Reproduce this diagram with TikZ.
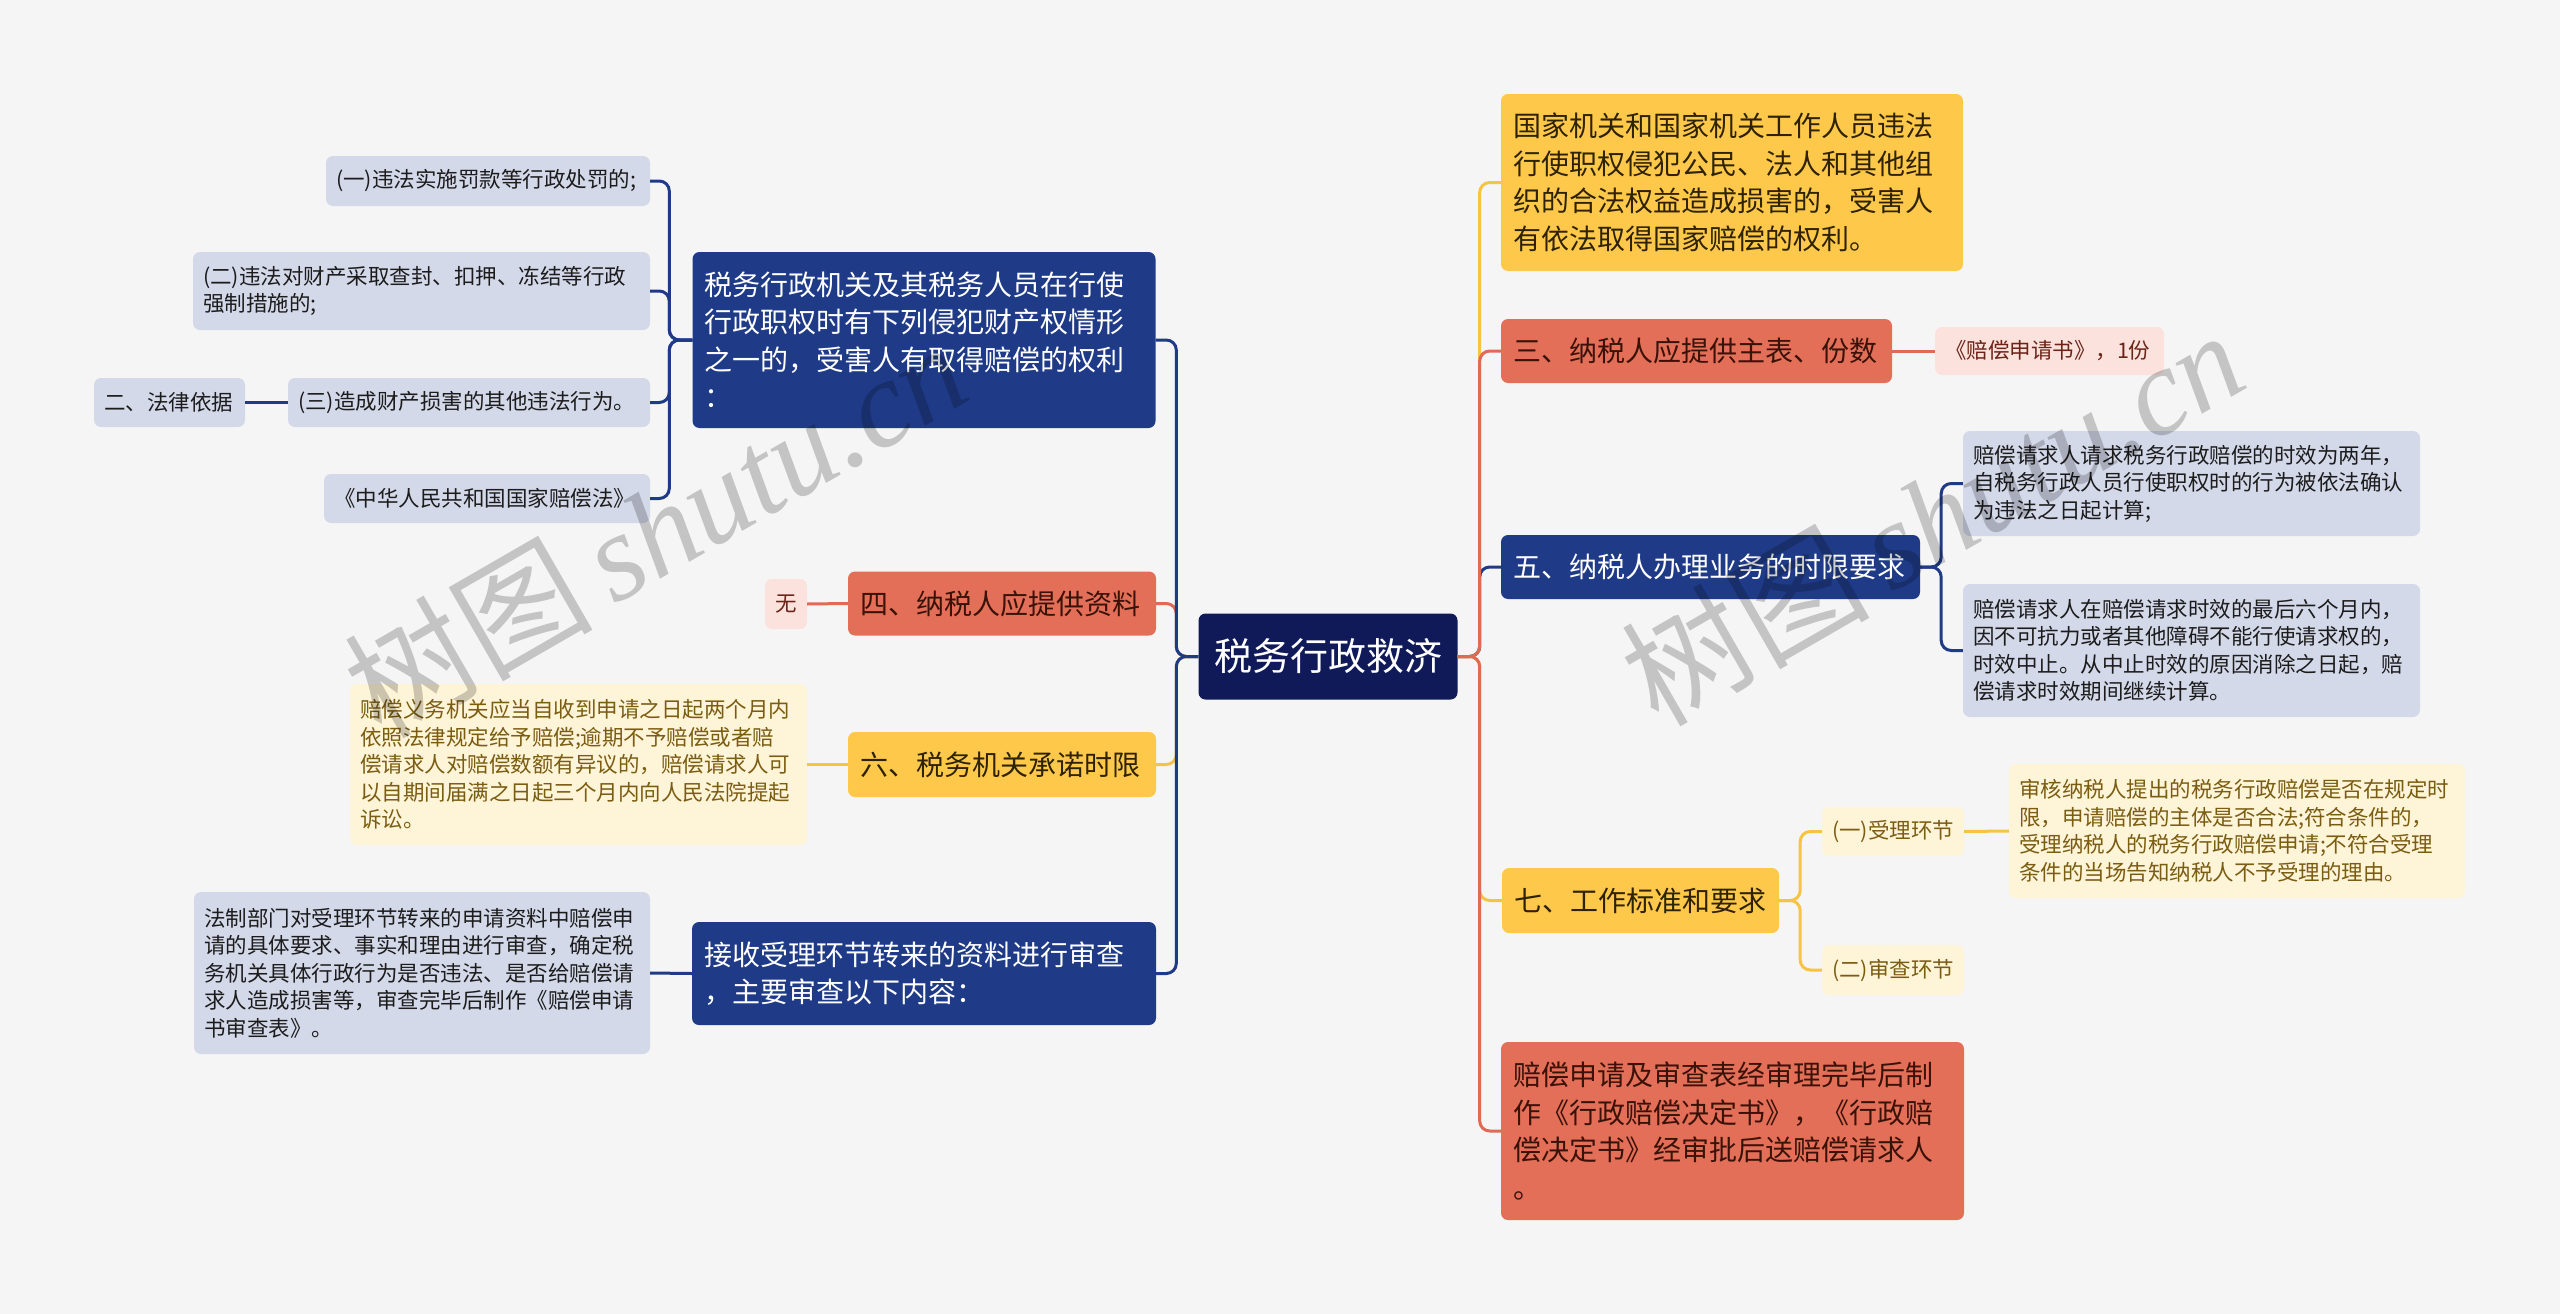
\documentclass[tikz,border=0pt]{standalone}
\usepackage{fontspec}
\setmainfont{Noto Sans CJK SC}
\newfontfamily\wmlatin{Liberation Serif}
\definecolor{bgc}{HTML}{F5F5F5}
\definecolor{rootc}{HTML}{101A58}
\definecolor{navyc}{HTML}{1F3B88}
\definecolor{redc}{HTML}{E36F58}
\definecolor{yelc}{HTML}{FEC84B}
\definecolor{lavc}{HTML}{D4D9EA}
\definecolor{pinkc}{HTML}{FBE2DC}
\definecolor{creamc}{HTML}{FEF4D8}
\definecolor{redtxt}{HTML}{3A1208}
\definecolor{yeltxt}{HTML}{2E2200}
\definecolor{lavtxt}{HTML}{1C1C1C}
\definecolor{pinktxt}{HTML}{6B2418}
\definecolor{creamtxt}{HTML}{7B5D12}
\definecolor{lnred}{HTML}{E06A55}
\definecolor{lnyel}{HTML}{F6C444}
\begin{document}
\begin{tikzpicture}[x=1pt,y=-1pt,
  bx/.style={rounded corners=7pt, inner ysep=0pt, align=left, anchor=center},
  rootst/.style={bx, fill=rootc, text=white, inner xsep=0pt, align=center,
    font=\fontsize{38}{44}\selectfont},
  bnavy/.style={bx, fill=navyc, text=white, inner xsep=12pt, font=\fontsize{28}{37.5}\selectfont},
  bred/.style={bx, fill=redc, text=redtxt, inner xsep=12pt, font=\fontsize{28}{37.5}\selectfont},
  byel/.style={bx, fill=yelc, text=yeltxt, inner xsep=12pt, font=\fontsize{28}{37.5}\selectfont},
  blav/.style={bx, fill=lavc, text=lavtxt, inner xsep=10pt, font=\fontsize{21.5}{27.5}\selectfont},
  bpink/.style={bx, fill=pinkc, text=pinktxt, inner xsep=10pt, font=\fontsize{21.5}{27.5}\selectfont},
  bcream/.style={bx, fill=creamc, text=creamtxt, inner xsep=10pt, font=\fontsize{21.5}{27.5}\selectfont},
  ln/.style={line width=3pt, rounded corners=10pt},
  lnavy/.style={ln, draw=navyc},
  lred/.style={ln, draw=lnred},
  lyel/.style={ln, draw=lnyel},
  wm/.style={text=black, opacity=0.2, inner sep=0pt}
]
\useasboundingbox (0,0) rectangle (2560,1314);
\fill[bgc] (0,0) rectangle (2560,1314);

% root
\node[rootst, minimum width=259pt, minimum height=86pt] (root) at (1328,656.5) {税务行政救济};

% left branches
\node[bnavy, text width=439pt, minimum height=176pt] (l1) at (924,340)
  {税务行政机关及其税务人员在行使\\行政职权时有下列侵犯财产权情形\\之一的，受害人有取得赔偿的权利\\：};
\node[blav, text width=304pt, minimum height=50pt] (l1a) at (488,181) {(一)违法实施罚款等行政处罚的;};
\node[blav, text width=437pt, minimum height=78pt] (l1b) at (421.5,291) {(二)违法对财产采取查封、扣押、冻结等行政\\强制措施的;};
\node[blav, text width=342pt, minimum height=49pt] (l1c) at (469,402.5) {(三)造成财产损害的其他违法行为。};
\node[blav, text width=131pt, minimum height=49pt] (l1c1) at (169.5,402.5) {二、法律依据};
\node[blav, text width=306pt, minimum height=49pt] (l1d) at (487,498.5) {《中华人民共和国国家赔偿法》};

\node[bred, text width=284pt, minimum height=64pt] (l2) at (1002,603.5) {四、纳税人应提供资料};
\node[bpink, text width=22pt, minimum height=50pt, align=center] (l2a) at (786,604) {无};

\node[byel, text width=284pt, minimum height=65pt] (l3) at (1002,764.5) {六、税务机关承诺时限};
\node[bcream, text width=437pt, minimum height=161pt] (l3a) at (578.5,764.5)
  {赔偿义务机关应当自收到申请之日起两个月内\\依照法律规定给予赔偿;逾期不予赔偿或者赔\\偿请求人对赔偿数额有异议的，赔偿请求人可\\以自期间届满之日起三个月内向人民法院提起\\诉讼。};

\node[bnavy, text width=440pt, minimum height=103pt] (l4) at (924,973.5)
  {接收受理环节转来的资料进行审查\\，主要审查以下内容：};
\node[blav, text width=436pt, minimum height=162pt] (l4a) at (422,973)
  {法制部门对受理环节转来的申请资料中赔偿申\\请的具体要求、事实和理由进行审查，确定税\\务机关具体行政行为是否违法、是否给赔偿请\\求人造成损害等，审查完毕后制作《赔偿申请\\书审查表》。};

% right branches
\node[byel, text width=438pt, minimum height=177pt] (r1) at (1732,182.5)
  {国家机关和国家机关工作人员违法\\行使职权侵犯公民、法人和其他组\\织的合法权益造成损害的，受害人\\有依法取得国家赔偿的权利。};
\node[bred, text width=367pt, minimum height=64pt] (r2) at (1696.5,351) {三、纳税人应提供主表、份数};
\node[bpink, text width=209pt, minimum height=48pt] (r2a) at (2049.5,351) {《赔偿申请书》，1份};

\node[bnavy, text width=395pt, minimum height=64pt] (r3) at (1710.5,567) {五、纳税人办理业务的时限要求};
\node[blav, text width=437pt, minimum height=105pt] (r3a) at (2191.5,483.5)
  {赔偿请求人请求税务行政赔偿的时效为两年，\\自税务行政人员行使职权时的行为被依法确认\\为违法之日起计算;};
\node[blav, text width=437pt, minimum height=133pt] (r3b) at (2191.5,650.5)
  {赔偿请求人在赔偿请求时效的最后六个月内，\\因不可抗力或者其他障碍不能行使请求权的，\\时效中止。从中止时效的原因消除之日起，赔\\偿请求时效期间继续计算。};

\node[byel, text width=253pt, minimum height=65pt] (r4) at (1640.5,900.5) {七、工作标准和要求};
\node[bcream, text width=122pt, minimum height=49pt] (r4a) at (1893,831.5) {(一)受理环节};
\node[bcream, text width=122pt, minimum height=50pt] (r4b) at (1893,970) {(二)审查环节};
\node[bcream, text width=436pt, minimum height=134pt] (r4a1) at (2237,831)
  {审核纳税人提出的税务行政赔偿是否在规定时\\限，申请赔偿的主体是否合法;符合条件的，\\受理纳税人的税务行政赔偿申请;不符合受理\\条件的当场告知纳税人不予受理的理由。};

\node[bred, text width=439pt, minimum height=178pt] (r5) at (1732.5,1131)
  {赔偿申请及审查表经审理完毕后制\\作《行政赔偿决定书》，《行政赔\\偿决定书》经审批后送赔偿请求人\\。};

% connectors: left
\draw[lred] (root.west) -- ++(-22,0) |- (l2.east);
\draw[lyel] (root.west) -- ++(-22,0) |- (l3.east);
\draw[lnavy] (root.west) -- ++(-22,0) |- (l1.east);
\draw[lnavy] (root.west) -- ++(-22,0) |- (l4.east);

\draw[lnavy] (l1.west) -- ++(-23,0) |- (l1a.east);
\draw[lnavy] (l1.west) -- ++(-23,0) |- (l1b.east);
\draw[lnavy] (l1.west) -- ++(-23,0) |- (l1c.east);
\draw[lnavy] (l1.west) -- ++(-23,0) |- (l1d.east);
\draw[lnavy] (l1c.west) -- (l1c1.east);
\draw[lred] (l2.west) -- (l2a.east);
\draw[lyel] (l3.west) -- (l3a.east);
\draw[lnavy] (l4.west) -- (l4a.east);

% connectors: right
\draw[lyel] (root.east) -- ++(22,0) |- (r1.west);
\draw[lnavy] (root.east) -- ++(22,0) |- (r3.west);
\draw[lyel] (root.east) -- ++(22,0) |- (r4.west);
\draw[lred] (root.east) -- ++(22,0) |- (r2.west);
\draw[lred] (root.east) -- ++(22,0) |- (r5.west);

\draw[lred] (r2.east) -- (r2a.west);
\draw[lnavy] (r3.east) -- ++(21,0) |- (r3a.west);
\draw[lnavy] (r3.east) -- ++(21,0) |- (r3b.west);
\draw[lyel] (r4.east) -- ++(21,0) |- (r4a.west);
\draw[lyel] (r4.east) -- ++(21,0) |- (r4b.west);
\draw[lyel] (r4a.east) -- (r4a1.west);

% watermarks
\node[wm, rotate=30] (wm1) at (655,528) {\fontsize{124}{124}\selectfont 树图\,{\wmlatin\itshape shutu.cn}};
\node[wm, rotate=30] (wm2) at (1932,516) {\fontsize{124}{124}\selectfont 树图\,{\wmlatin\itshape shutu.cn}};
\end{tikzpicture}
\end{document}
